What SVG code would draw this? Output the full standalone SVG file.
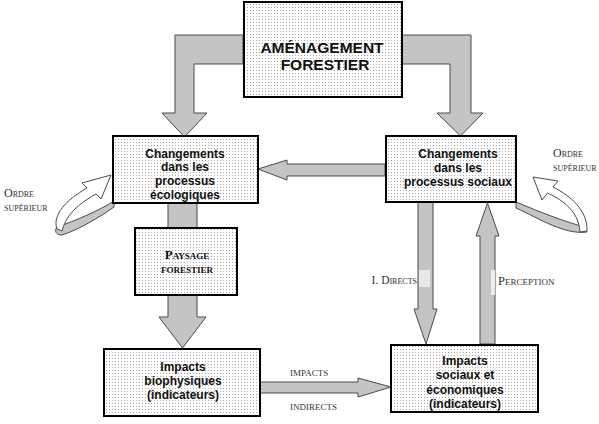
<svg xmlns="http://www.w3.org/2000/svg" width="599" height="424" viewBox="0 0 599 424">
<defs>
<pattern id="dots" width="3" height="3" patternUnits="userSpaceOnUse">
<rect width="3" height="3" fill="#ffffff"/>
<rect x="1" y="1" width="1" height="1" fill="#a8a8a8"/>
</pattern>
<style>
.box{fill:url(#dots);stroke:#000;stroke-width:2}
.arr{fill:#c4c4c4;stroke:#4a4a4a;stroke-width:1}
.wht{fill:#fff;stroke:#4a4a4a;stroke-width:1}
.t{font-family:"Liberation Sans",Arial,sans-serif;font-weight:bold;font-size:12px;fill:#111;text-anchor:middle}
.big{font-size:15.5px}
.sc{font-family:"Liberation Serif","Times New Roman",serif;font-size:12px;font-variant:small-caps;fill:#333}
.scb{font-weight:bold;text-anchor:middle;fill:#111;font-size:13px}
.s13{font-size:13px}
</style>
</defs>
<g id="connectors">
<path class="arr" d="M243,35 L175,35 L175,113 L162,113 L184.5,137 L207,113 L194,113 L194,64 L243,64 Z"/>
<path class="arr" d="M402,35 L471,35 L471,113 L483,113 L460.5,136 L437,113 L450,113 L450,64 L402,64 Z"/>
<path class="arr" d="M385,164 L287,164 L287,160 L258,169 L287,180 L287,176 L385,176 Z"/>
<rect class="arr" x="168" y="203" width="29" height="25"/>
<path class="arr" d="M168,295 L197,295 L197,317 L206,317 L182.5,348 L159,317 L168,317 Z"/>
<path class="arr" d="M260,382 L358,382 L358,378 L391,387 L358,397 L358,393 L260,393 Z"/>
<path class="arr" d="M418,202 L433,202 L433,309 L437,309 L426,344 L414,309 L418,309 Z"/>
<rect x="419" y="270" width="11" height="17" fill="#e8e8e8"/>
<path class="arr" d="M480,344 L495,344 L495,236 L499,236 L487.5,203 L476,236 L480,236 Z"/>
<rect x="491" y="270" width="4" height="25" fill="#ececec"/>
<path class="arr" d="M57,227 C75,221 100,210 114,201 L114,207 C100,217 78,230 62,235 C56,235 54,231 57,227 Z"/>
<path class="wht" d="M57,229 C52,215 66,200 87,188 L82,183 L111,175 L101,199 L96,194 C78,204 66,215 62,231 Z"/>
<path class="arr" d="M516,202 C540,212 565,222 585,227 L587,232 C565,235 540,219 516,208 Z"/>
<path class="wht" d="M587,231 C588,211 571,196 553,187 L558,181 L533,177 L542,200 L547.5,193 C565,201 579,213 580,232 Z"/>
</g>
<g id="amenagement">
<rect class="box" x="244" y="2" width="158" height="95"/>
<text class="t big" x="322" y="53">AMÉNAGEMENT</text>
<text class="t big" x="325" y="70">FORESTIER</text>
</g>
<g id="ecologiques">
<rect class="box" x="113" y="136" width="145" height="67"/>
<text class="t" x="185" y="158">Changements</text>
<text class="t" x="185" y="171">dans les</text>
<text class="t" x="185" y="185">processus</text>
<text class="t" x="185" y="199">écologiques</text>
</g>
<g id="sociaux">
<rect class="box" x="386" y="136" width="130" height="66"/>
<text class="t" x="458" y="158">Changements</text>
<text class="t" x="458" y="172">dans les</text>
<text class="t" x="458" y="186">processus sociaux</text>
</g>
<g id="paysage">
<rect class="box" x="135" y="228" width="102" height="67"/>
<text class="sc scb" x="187" y="259">Paysage</text>
<text class="sc scb" x="187" y="273">forestier</text>
</g>
<g id="biophysiques">
<rect class="box" x="104" y="349" width="156" height="67"/>
<text class="t" x="183" y="371">Impacts</text>
<text class="t" x="183" y="385">biophysiques</text>
<text class="t" x="183" y="399">(indicateurs)</text>
</g>
<g id="impacts-sociaux">
<rect class="box" x="391" y="345" width="147" height="67"/>
<text class="t" x="465" y="365">Impacts</text>
<text class="t" x="465" y="379">sociaux et</text>
<text class="t" x="465" y="394">économiques</text>
<text class="t" x="465" y="408">(indicateurs)</text>
</g>
<g id="labels">
<text class="sc" x="4" y="197">Ordre</text>
<text class="sc" x="4" y="211">supérieur</text>
<text class="sc" x="553" y="157">Ordre</text>
<text class="sc" x="553" y="171">supérieur</text>
<text class="sc" x="417" y="284" text-anchor="end" style="font-size:11.5px">I. Directs</text>
<text class="sc" x="498" y="285" style="font-size:12.5px">Perception</text>
<text class="sc s13" x="290" y="376">impacts</text>
<text class="sc s13" x="290" y="410">indirects</text>
</g>
</svg>
